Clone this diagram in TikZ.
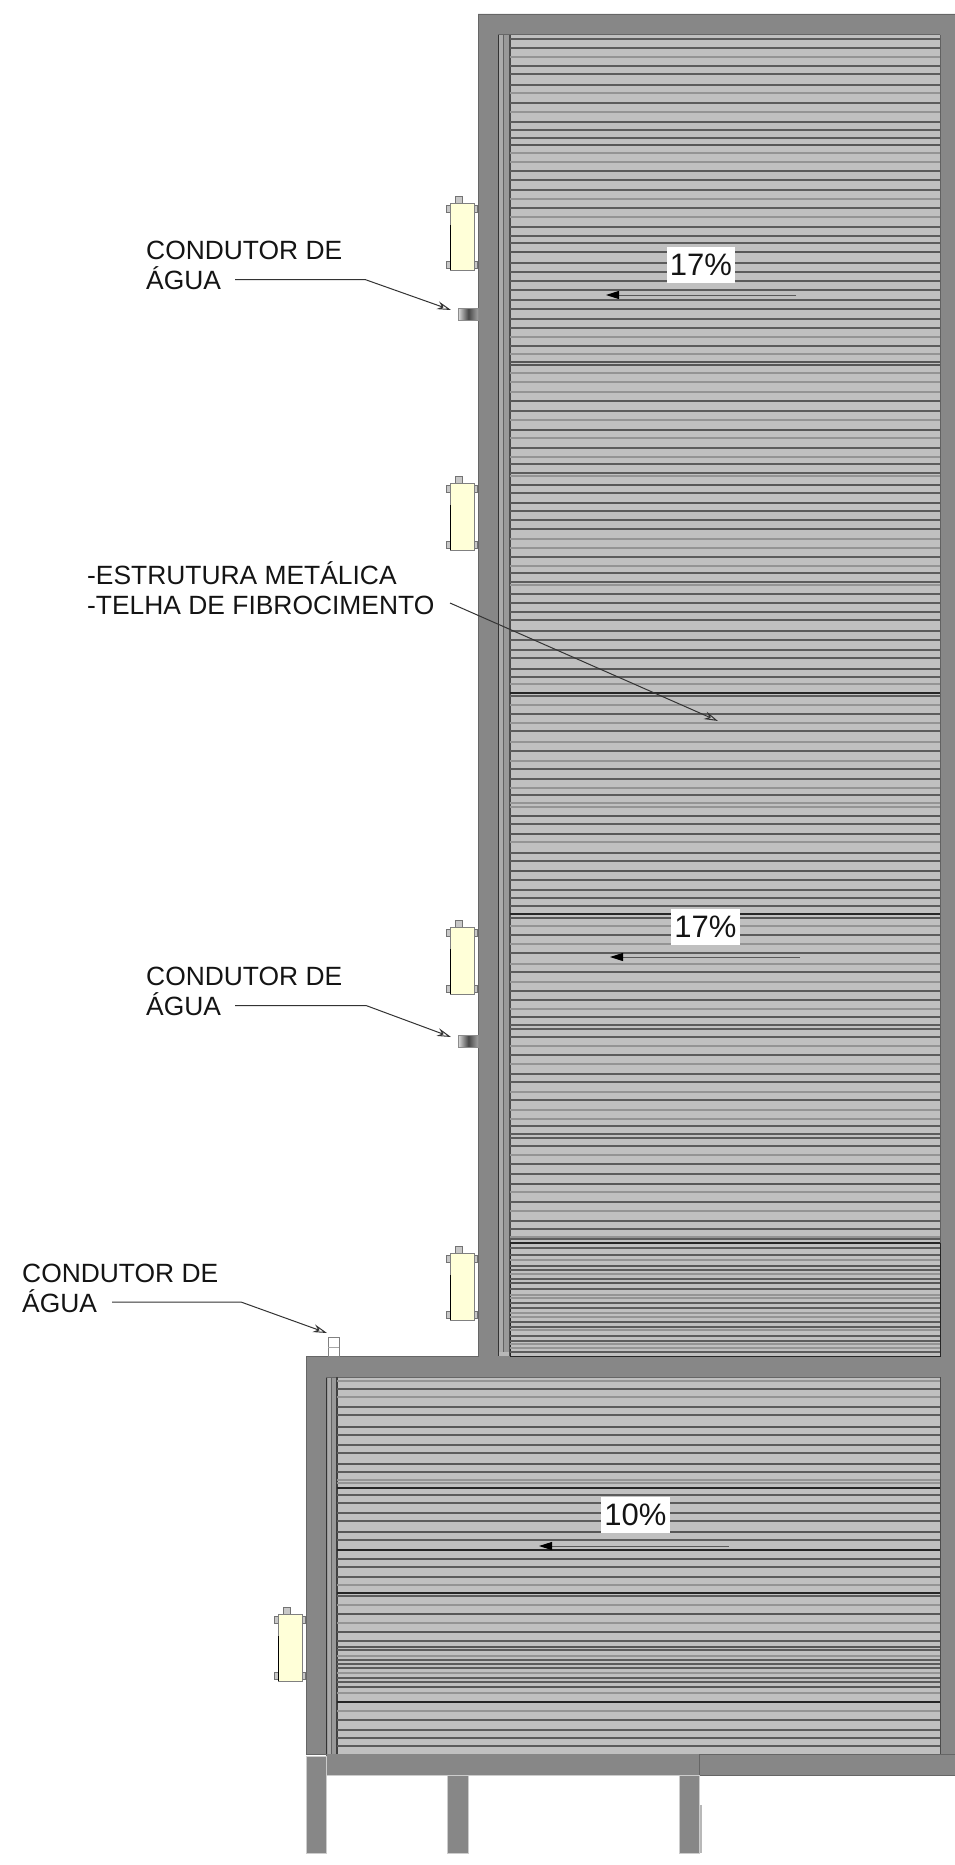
\documentclass[tikz,border=0pt]{standalone}
\usepackage{fontspec}
\setmainfont{Liberation Sans}
\usetikzlibrary{arrows.meta}
\definecolor{wallc}{HTML}{878787}
\definecolor{edgec}{HTML}{666666}
\definecolor{sheetc}{HTML}{C0C0C0}
\definecolor{stripa}{HTML}{ABABAB}
\definecolor{stripb}{HTML}{999999}
\definecolor{lampc}{HTML}{FFFFD8}
\definecolor{tabc}{HTML}{C8C8C8}
\tikzset{
  wall/.style={fill=wallc,draw=edgec,line width=0.8pt},
  column/.style={fill=wallc,draw=black!20,line width=1pt},
  sheet/.style={fill=sheetc,draw=none},
  sd/.style={draw=black!64,line width=1.4pt},
  sl/.style={draw=black!42,line width=1.4pt},
  st/.style={draw=black!66,line width=2.8pt},
  sb/.style={draw=black!85,line width=2.1pt},
  leader/.style={draw=black!80,line width=1pt,-{Stealth[open,length=14pt,width=8pt]}},
  slope/.style={draw=black!65,line width=1pt,-{Triangle[length=13pt,width=8pt,black]}},
  lab/.style={font=\fontsize{26.4}{30}\selectfont,inner sep=0pt,anchor=north west,align=left,text=black!92},
  pct/.style={font=\fontsize{31}{36}\selectfont,fill=white,inner xsep=3pt,inner ysep=0pt,minimum width=64pt,minimum height=36pt,text=black!92},
  pipe/.style={left color=black!15,right color=black!35,middle color=black!72,draw=black!45,line width=0.8pt},
  lamp/.pic={
    \draw[fill=tabc,draw=black!55,line width=0.8pt] (5,-7) rectangle (11.5,0);
    \draw[fill=tabc,draw=black!55,line width=0.8pt] (-4,2) rectangle (0,9);
    \draw[fill=tabc,draw=black!55,line width=0.8pt] (-4,58) rectangle (0,65);
    \draw[fill=tabc,draw=black!55,line width=0.8pt] (24,2) rectangle (27,9);
    \draw[fill=tabc,draw=black!55,line width=0.8pt] (24,58) rectangle (27,65);
    \draw[fill=lampc,draw=black!50,line width=0.9pt] (0,0) rectangle (24,67);
    \draw[black,line width=1.3pt] (0,22) -- (0,67);
  }
}
\begin{document}
\begin{tikzpicture}[x=1pt,y=-1pt]
\useasboundingbox[fill=white] (0,0) rectangle (955,1865);
% walls
\draw[wall] (478,14) -- (955,14) -- (955,1775) -- (326,1775) -- (326,1754) -- (306,1754) -- (306,1356) -- (478,1356) -- cycle;
\draw[column] (306,1756) rectangle (326,1853);
\draw[column] (447,1775) rectangle (468,1853);
\draw[column] (679,1775) rectangle (699,1853);
\fill[black!28] (699.5,1805) rectangle (702,1853);
\draw[black!20,line width=1pt] (326,1775) -- (699,1775);
\draw[edgec,line width=1pt] (955,1754.5) -- (699.5,1754.5) -- (699.5,1775);
% upper panel
\fill[sheet] (510,35) rectangle (940,1356);
\fill[stripb] (498,35) rectangle (510,1356);
\fill[stripa] (499,35) rectangle (503,1356);
\fill[black!28] (499,1352) rectangle (510,1356);
\draw[black!80,line width=1.7pt] (498.5,35) -- (498.5,1356);
\draw[black!62,line width=1pt] (503.5,35) -- (503.5,1352);
\draw[edgec,line width=1pt] (498,35) -- (940,35);
\draw[black!70,line width=1.2pt] (510,35) -- (510,1356);
\draw[black!62,line width=1pt] (940,35) -- (940,1356);
\draw[black!85,line width=1pt] (510,1243) -- (510,1356) -- (940,1356) -- (940,1243);
% lower panel
\fill[sheet] (337,1377) rectangle (940,1754);
\fill[stripb] (326,1377) rectangle (337,1754);
\fill[stripa] (327.5,1377) rectangle (331,1754);
\draw[black!80,line width=1.7pt] (326.5,1377) -- (326.5,1754);
\draw[black!62,line width=1pt] (331.5,1377) -- (331.5,1754);
\draw[edgec,line width=1pt] (326,1377) -- (940,1377);
\draw[black!75,line width=1.2pt] (337,1377) -- (337,1754);
\draw[black!70,line width=1pt] (940,1377) -- (940,1754);
% upper slats
\foreach \y in {39,48,66,74,85,103,122,130,138,171,180,190,208,227,236,243,263,272,281,290,300,309,319,328,346,411,448,464,473,493,511,520,529,557,573,582,594,603,612,620,631,640,650,658,677,696,714,731,751,769,779,795,824,853,861,880,890,898,906,935,953,972,991,1000,1025,1029,1037,1055,1074,1082,1100,1126,1134,1138,1146,1164,1174,1202,1221,1229,1239,1248,1255,1270,1279,1289,1303,1308,1322,1327,1336,1341,1352}
  \draw[sd] (510,\y) -- (940,\y);
\foreach \y in {57,93,112,153,162,199,217,337,354,373,382,392,420,438,457,476,539,548,566,585,684,705,723,742,761,788,807,842,926,944,982,1009,1046,1064,1092,1110,1155,1192,1211,1237,1260,1274,1295,1298,1313,1317,1330,1344,1348}
  \draw[sl] (510,\y) -- (940,\y);
\foreach \y in {145,252,362,365,401,430,485,503,669,816,834,871,918,1017,1184,1266,1283}
  \draw[st] (510,\y) -- (940,\y);
\foreach \y in {693,914,1243}
  \draw[sb] (510,\y) -- (940,\y);
\foreach \y in {803,964,1119}
  \draw[sl,line width=2.2pt] (510,\y) -- (940,\y);
% lower slats
\foreach \y in {1389,1407,1415,1435,1445,1453,1472,1495,1503,1513,1521,1540,1567,1577,1596,1641,1650,1660,1664,1668,1678,1682,1720,1730,1738,1746}
  \draw[sd] (337,\y) -- (940,\y);
\foreach \y in {1381,1397,1480,1483,1585,1605,1623,1656,1673,1711}
  \draw[sl] (337,\y) -- (940,\y);
\foreach \y in {1427,1464,1532,1559,1614,1632,1647,1687}
  \draw[st] (337,\y) -- (940,\y);
\foreach \y in {1488,1550,1593}
  \draw[sb] (337,\y) -- (940,\y);
\draw[sb,line width=2.6pt] (337,1702) -- (940,1702);
\draw[sl,line width=2.4pt] (337,1693) -- (940,1693);
% lamps
\pic at (450.5,203) {lamp};
\pic at (450.5,483) {lamp};
\pic at (450.5,927) {lamp};
\pic at (450.5,1253) {lamp};
\pic at (278.5,1614) {lamp};
% water conductors
\node[pipe,inner sep=0pt,minimum width=20pt,minimum height=12pt,anchor=north west] (p1) at (458,308) {};
\node[pipe,inner sep=0pt,minimum width=20pt,minimum height=12pt,anchor=north west] (p2) at (458,1035) {};
\draw[fill=white,draw=black!50,line width=0.9pt] (328,1337) rectangle (339,1356);
\draw[black!35,line width=0.6pt] (328,1347) -- (339,1347);
\coordinate (p3) at (327,1333);
\coordinate (t1) at (451,310);
\coordinate (t2) at (451,1037);
% labels and leaders
\node[lab] (c1) at (146,241) {CONDUTOR DE\\ÁGUA};
\node[lab] (c2) at (146,967) {CONDUTOR DE\\ÁGUA};
\node[lab] (c3) at (22,1263.5) {CONDUTOR DE\\ÁGUA};
\node[lab] (e1) at (87,561) {-ESTRUTURA METÁLICA\\-TELHA DE FIBROCIMENTO};
\coordinate (s1) at (235,279.5);
\coordinate (b1) at (365,279.5);
\coordinate (s2) at (235,1005.5);
\coordinate (b2) at (366,1005.5);
\coordinate (s3) at (112,1302);
\coordinate (b3) at (241,1302);
\coordinate (s4) at (450,603);
\coordinate (t4) at (718,721);
\draw[leader] (s1) -- (b1) -- (t1);
\draw[leader] (s2) -- (b2) -- (t2);
\draw[leader] (s3) -- (b3) -- (p3);
\draw[leader] (s4) -- (t4);
% slopes
\coordinate (a1) at (796,295);
\coordinate (a1e) at (606,295);
\coordinate (a2) at (800,957);
\coordinate (a2e) at (610,957);
\coordinate (a3) at (729,1546);
\coordinate (a3e) at (539,1546);
\draw[slope] (a1) -- (a1e);
\draw[slope] (a2) -- (a2e);
\draw[slope] (a3) -- (a3e);
\node[pct] (l1) at (701,265) {17\%};
\node[pct] (l2) at (705.5,927) {17\%};
\node[pct] (l3) at (635.5,1515) {10\%};
\end{tikzpicture}
\end{document}
